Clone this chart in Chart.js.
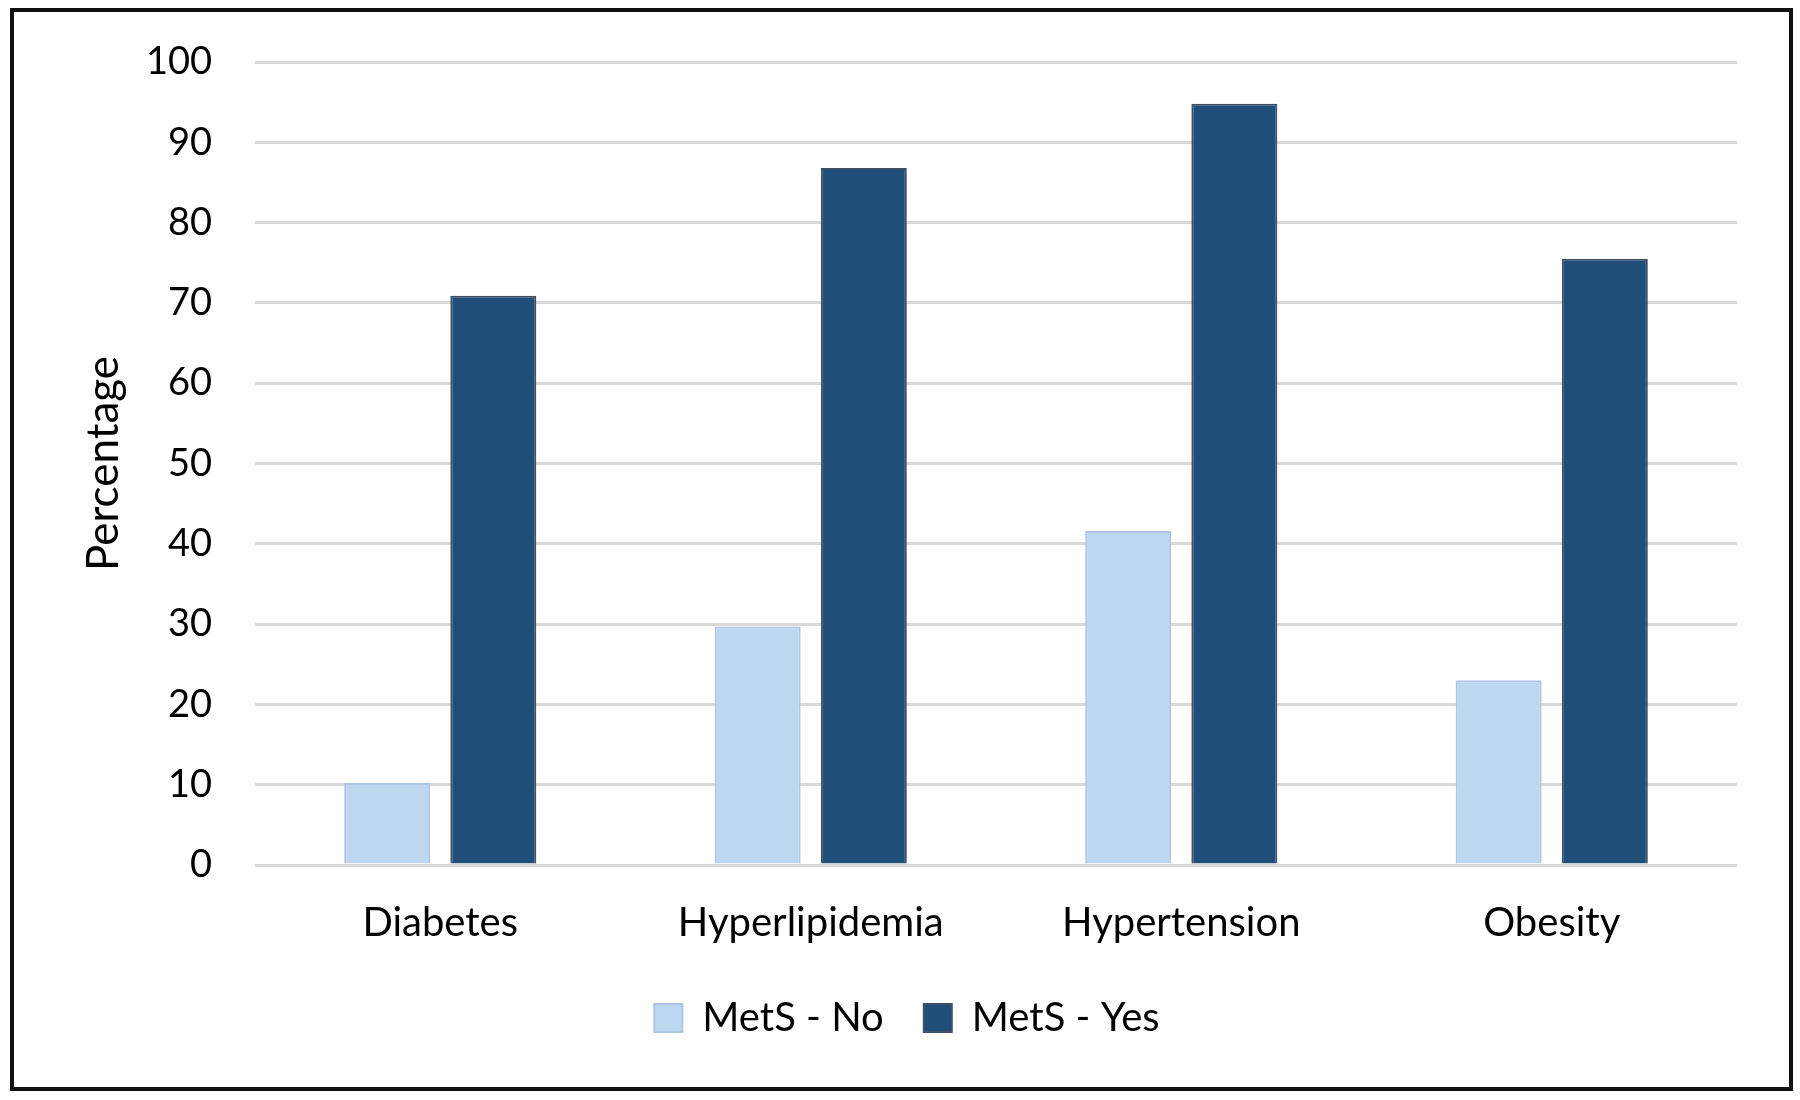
<!DOCTYPE html>
<html>
<head>
<meta charset="utf-8">
<script src="https://cdn.jsdelivr.net/npm/chart.js@4.4.1/dist/chart.umd.min.js"></script>
<style>
html,body{margin:0;padding:0;background:#fff;}
#wrap{position:absolute;left:0;top:0;width:1800px;height:1100px;}
</style>
</head>
<body>
<div id="wrap"><canvas id="c" width="1800" height="1100"></canvas></div>
<script>
const categories = ["Diabetes", "Hyperlipidemia", "Hypertension", "Obesity"];
const metsNo = [10.2, 29.7, 41.6, 23.0];
const metsYes = [70.9, 86.8, 94.8, 75.5];
const seriesNames = ["MetS - No", "MetS - Yes"];
const yTicks = [0, 10, 20, 30, 40, 50, 60, 70, 80, 90, 100];
const yTitle = "Percentage";

const FONT = "Lato, 'Open Sans', sans-serif";

const frame = {
  id: 'frame',
  beforeDraw(chart) {
    const ctx = chart.ctx;
    ctx.save();
    ctx.fillStyle = '#fff';
    ctx.fillRect(0, 0, chart.width, chart.height);
    ctx.restore();
  },
  afterDraw(chart) {
    const ctx = chart.ctx;
    ctx.save();
    ctx.strokeStyle = '#111';
    ctx.lineWidth = 4;
    ctx.strokeRect(12, 10, 1779, 1079);
    ctx.restore();
  }
};

new Chart(document.getElementById('c'), {
  type: 'bar',
  data: {
    labels: categories,
    datasets: [
      {
        label: seriesNames[0],
        data: metsNo,
        backgroundColor: '#BDD7EE',
        borderColor: '#B0C4E6',
        borderWidth: 2,
        categoryPercentage: 0.573,
        barPercentage: 0.81
      },
      {
        label: seriesNames[1],
        data: metsYes,
        backgroundColor: '#1F4E79',
        borderColor: '#3E5068',
        borderWidth: 2,
        categoryPercentage: 0.573,
        barPercentage: 0.81
      }
    ]
  },
  options: {
    responsive: false,
    animation: false,
    devicePixelRatio: 1,
    layout: { padding: { left: 77, right: 63, top: 40, bottom: 52 } },
    plugins: {
      tooltip: { enabled: false },
      legend: {
        position: 'bottom',
        labels: {
          font: { family: FONT, size: 40 },
          color: '#000',
          boxWidth: 28,
          boxHeight: 28,
          padding: 40
        }
      }
    },
    scales: {
      x: {
        grid: { display: false, drawTicks: false },
        border: { display: false },
        ticks: { font: { family: FONT, size: 40 }, color: '#000', padding: 34 },
        afterFit(scale) { scale.height = 93; }
      },
      y: {
        min: 0,
        max: 100,
        afterBuildTicks(scale) { scale.ticks = yTicks.map(v => ({ value: v })); },
        grid: { color: '#D9D9D9', lineWidth: 3, drawTicks: false },
        border: { display: false },
        ticks: { font: { family: FONT, size: 38, lineHeight: 1.0 }, color: '#000', padding: 43 },
        title: {
          display: true,
          text: yTitle,
          font: { family: FONT, size: 44 },
          color: '#000',
          padding: { top: 0, bottom: 0 }
        },
        afterFit(scale) { scale.width = 178; }
      }
    }
  },
  plugins: [frame]
});
</script>
</body>
</html>
